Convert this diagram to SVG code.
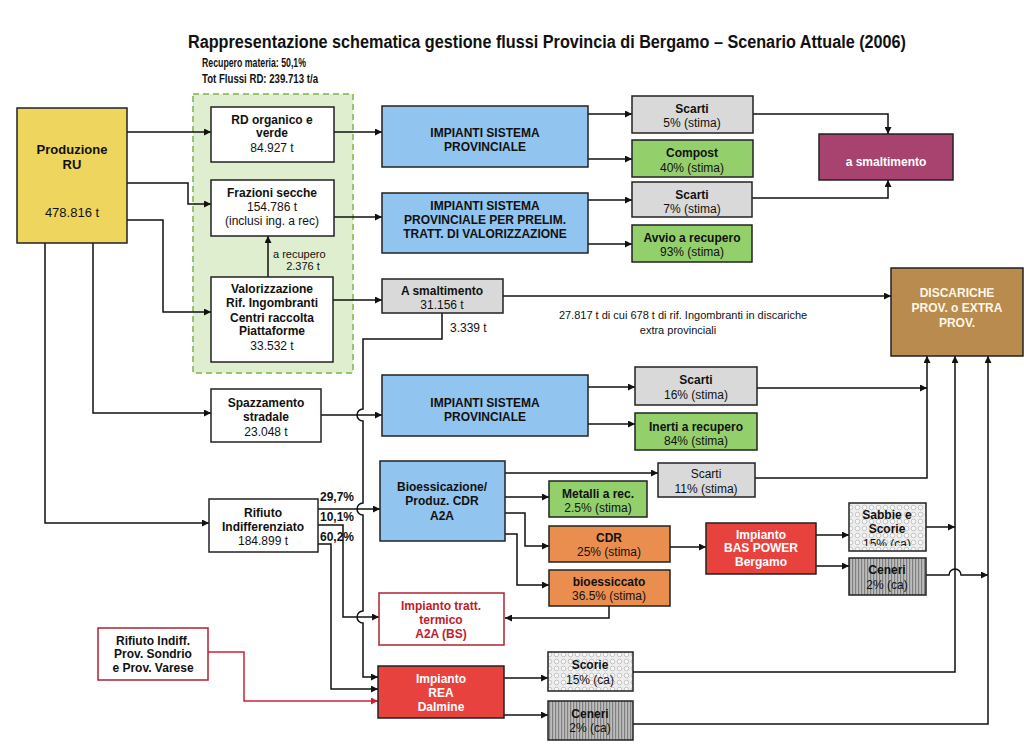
<svg xmlns="http://www.w3.org/2000/svg" width="1024" height="750" viewBox="0 0 1024 750">
<defs>
<style>
text{font-family:'Liberation Sans',Arial,sans-serif;font-size:12px;fill:#111}
.b{font-weight:bold}
.c{text-anchor:middle}
.w{fill:#fff}
.r{fill:#c0202a}
.box{stroke:#222;stroke-width:1.5}
.ln{fill:none;stroke:#111;stroke-width:1.5}
.lr{fill:none;stroke:#d02030;stroke-width:1.5}
</style>
<marker id="ah" viewBox="0 0 10 10" refX="10" refY="5" markerWidth="9" markerHeight="7" orient="auto" markerUnits="userSpaceOnUse"><path d="M0,0 L10,5 L0,10 z" fill="#111"/></marker>
<marker id="ahr" viewBox="0 0 10 10" refX="10" refY="5" markerWidth="9" markerHeight="7" orient="auto" markerUnits="userSpaceOnUse"><path d="M0,0 L10,5 L0,10 z" fill="#d02030"/></marker>
<pattern id="bub" width="7" height="7" patternUnits="userSpaceOnUse"><rect width="7" height="7" fill="#eeeeee"/><circle cx="3.5" cy="3.5" r="2.3" fill="#f8f8f8" stroke="#b0b0b0" stroke-width="0.7"/></pattern>
<pattern id="str" width="3" height="3" patternUnits="userSpaceOnUse"><rect width="3" height="3" fill="#bcbcbc"/><rect width="1.2" height="3" fill="#808080"/></pattern>
<clipPath id="sclip"><rect x="849" y="503" width="77" height="43"/></clipPath>
</defs>
<rect width="1024" height="750" fill="#fff"/>

<text x="188" y="48" class="b" style="font-size:18px" textLength="718" lengthAdjust="spacingAndGlyphs">Rappresentazione schematica gestione flussi Provincia di Bergamo – Scenario Attuale (2006)</text>
<text x="202" y="67" class="b" style="font-size:13px" textLength="104" lengthAdjust="spacingAndGlyphs">Recupero materia: 50,1%</text>
<text x="202" y="83" class="b" style="font-size:13px" textLength="116" lengthAdjust="spacingAndGlyphs">Tot Flussi RD: 239.713 t/a</text>

<rect x="193" y="94" width="160" height="279" fill="#e0eed0" stroke="#7fb24a" stroke-width="1.5" stroke-dasharray="6,4"/>

<g id="connectors">
<path class="ln" d="M127,132 H211" marker-end="url(#ah)"/>
<path class="ln" d="M127,183 H188 V204 H211" marker-end="url(#ah)"/>
<path class="ln" d="M127,220 H163 V312 H211" marker-end="url(#ah)"/>
<path class="ln" d="M93,243 V413 H211" marker-end="url(#ah)"/>
<path class="ln" d="M45,243 V523 H209" marker-end="url(#ah)"/>
<path class="ln" d="M268,277 V236" marker-end="url(#ah)"/>
<path class="ln" d="M334,132 H382" marker-end="url(#ah)"/>
<path class="ln" d="M334,217 H382" marker-end="url(#ah)"/>
<path class="ln" d="M333,300 H382" marker-end="url(#ah)"/>
<path class="ln" d="M588,114 H632" marker-end="url(#ah)"/>
<path class="ln" d="M588,159 H632" marker-end="url(#ah)"/>
<path class="ln" d="M588,200 H632" marker-end="url(#ah)"/>
<path class="ln" d="M588,244 H632" marker-end="url(#ah)"/>
<path class="ln" d="M753,114 H888 V134" marker-end="url(#ah)"/>
<path class="ln" d="M752,198 H888 V180" marker-end="url(#ah)"/>
<path class="ln" d="M503,296 H891" marker-end="url(#ah)"/>
<path class="ln" d="M442,313 V339 H363 V409 A6,6 0 0 0 363,421 V503 A6,6 0 0 0 363,515 V611 A6,6 0 0 0 363,623 V677 H378" marker-end="url(#ah)"/>
<path class="ln" d="M318,509 H380" marker-end="url(#ah)"/>
<path class="ln" d="M318,525 H343 V617 H379" marker-end="url(#ah)"/>
<path class="ln" d="M318,544 H331 V689 H378" marker-end="url(#ah)"/>
<path class="lr" d="M208,652 H244 V701 H378" marker-end="url(#ahr)"/>
<path class="ln" d="M321,415 H382" marker-end="url(#ah)"/>
<path class="ln" d="M588,387 H635" marker-end="url(#ah)"/>
<path class="ln" d="M588,424 H635" marker-end="url(#ah)"/>
<path class="ln" d="M757,388 H927" marker-end="url(#ah)"/>
<path class="ln" d="M755,478 H927 V356" marker-end="url(#ah)"/>
<path class="ln" d="M505,473 H658" marker-end="url(#ah)"/>
<path class="ln" d="M505,497 H549" marker-end="url(#ah)"/>
<path class="ln" d="M505,513 H525 V546 H549" marker-end="url(#ah)"/>
<path class="ln" d="M505,534 H517 V585 H549" marker-end="url(#ah)"/>
<path class="ln" d="M609,606 V618 H505" marker-end="url(#ah)"/>
<path class="ln" d="M670,547 H706" marker-end="url(#ah)"/>
<path class="ln" d="M816,535 H849" marker-end="url(#ah)"/>
<path class="ln" d="M816,566 H849" marker-end="url(#ah)"/>
<path class="ln" d="M926,527 H955" marker-end="url(#ah)"/>
<path class="ln" d="M926,575 H949 A6,6 0 0 1 961,575 H988" marker-end="url(#ah)"/>
<path class="ln" d="M633,672 H955 V356" marker-end="url(#ah)"/>
<path class="ln" d="M633,724 H988 V356" marker-end="url(#ah)"/>
<path class="ln" d="M504,678 H548" marker-end="url(#ah)"/>
<path class="ln" d="M504,715 H548" marker-end="url(#ah)"/>
</g>

<text x="273" y="258" style="font-size:11px">a recupero</text>
<text x="303" y="270" class="c" style="font-size:11px">2.376 t</text>
<text x="450" y="332">3.339 t</text>
<text x="683" y="319" class="c" style="font-size:11px">27.817 t di cui 678 t di rif. Ingombranti  in discariche</text>
<text x="678" y="334" class="c" style="font-size:11px">extra provinciali</text>
<text x="320" y="501" class="b">29,7%</text>
<text x="320" y="521" class="b">10,1%</text>
<text x="320" y="541" class="b">60,2%</text>

<g id="produzione">
<rect class="box" x="17" y="108" width="110" height="135" fill="#edd55e"/>
<text x="72" y="154" class="b c" style="font-size:13px">Produzione</text>
<text x="72" y="169" class="b c" style="font-size:13px">RU</text>
<text x="72" y="217" class="c" style="font-size:13px">478.816 t</text>
</g>
<g id="rd-organico">
<rect class="box" x="211" y="107" width="123" height="55" fill="#fff"/>
<text x="272" y="124" class="b c">RD organico e</text>
<text x="272" y="137" class="b c">verde</text>
<text x="272" y="152" class="c">84.927 t</text>
</g>
<g id="frazioni">
<rect class="box" x="211" y="180" width="123" height="56" fill="#fff"/>
<text x="272" y="197" class="b c">Frazioni secche</text>
<text x="272" y="211" class="c">154.786 t</text>
<text x="272" y="225" class="c">(inclusi ing. a rec)</text>
</g>
<g id="valorizzazione">
<rect class="box" x="211" y="277" width="122" height="85" fill="#fff"/>
<text x="272" y="293" class="b c">Valorizzazione</text>
<text x="272" y="307" class="b c">Rif. Ingombranti</text>
<text x="272" y="322" class="b c">Centri raccolta</text>
<text x="272" y="335" class="b c">Piattaforme</text>
<text x="272" y="350" class="c">33.532 t</text>
</g>
<g id="imp1">
<rect class="box" x="382" y="106" width="206" height="61" fill="#92c4f0"/>
<text x="485" y="137" class="b c">IMPIANTI SISTEMA</text>
<text x="485" y="151" class="b c">PROVINCIALE</text>
</g>
<g id="imp2">
<rect class="box" x="382" y="193" width="206" height="60" fill="#92c4f0"/>
<text x="485" y="210" class="b c">IMPIANTI SISTEMA</text>
<text x="485" y="224" class="b c">PROVINCIALE PER PRELIM.</text>
<text x="485" y="238" class="b c">TRATT. DI VALORIZZAZIONE</text>
</g>
<g id="scarti5">
<rect class="box" x="632" y="96" width="121" height="37" fill="#d9d9d9"/>
<text x="692" y="113" class="b c">Scarti</text>
<text x="692" y="127" class="c">5% (stima)</text>
</g>
<g id="compost">
<rect class="box" x="632" y="140" width="121" height="37" fill="#93cf6b"/>
<text x="692" y="157" class="b c">Compost</text>
<text x="692" y="172" class="c">40% (stima)</text>
</g>
<g id="scarti7">
<rect class="box" x="632" y="182" width="120" height="35" fill="#d9d9d9"/>
<text x="692" y="199" class="b c">Scarti</text>
<text x="692" y="213" class="c">7% (stima)</text>
</g>
<g id="avvio">
<rect class="box" x="632" y="225" width="120" height="37" fill="#93cf6b"/>
<text x="692" y="242" class="b c">Avvio a recupero</text>
<text x="692" y="256" class="c">93% (stima)</text>
</g>
<g id="a-smaltimento-top">
<rect class="box" x="819" y="134" width="134" height="46" fill="#a8426f"/>
<text x="886" y="166" class="b c w">a smaltimento</text>
</g>
<g id="a-smaltimento">
<rect class="box" x="382" y="279" width="121" height="34" fill="#d9d9d9"/>
<text x="442" y="295" class="b c">A smaltimento</text>
<text x="442" y="309" class="c">31.156 t</text>
</g>
<g id="discariche">
<rect class="box" x="891" y="268" width="132" height="88" fill="#b98b4e"/>
<text x="957" y="297" class="b c" style="fill:#fff8e8">DISCARICHE</text>
<text x="957" y="312" class="b c" style="fill:#fff8e8">PROV. o EXTRA</text>
<text x="957" y="327" class="b c" style="fill:#fff8e8">PROV.</text>
</g>
<g id="spazzamento">
<rect class="box" x="211" y="389" width="110" height="53" fill="#fff"/>
<text x="266" y="407" class="b c">Spazzamento</text>
<text x="266" y="421" class="b c">stradale</text>
<text x="266" y="436" class="c">23.048 t</text>
</g>
<g id="rifiuto-indiff">
<rect class="box" x="209" y="499" width="109" height="53" fill="#fff"/>
<text x="263" y="517" class="b c">Rifiuto</text>
<text x="263" y="531" class="b c">Indifferenziato</text>
<text x="263" y="545" class="c">184.899 t</text>
</g>
<g id="imp3">
<rect class="box" x="382" y="375" width="206" height="61" fill="#92c4f0"/>
<text x="485" y="407" class="b c">IMPIANTI SISTEMA</text>
<text x="485" y="421" class="b c">PROVINCIALE</text>
</g>
<g id="scarti16">
<rect class="box" x="635" y="367" width="122" height="38" fill="#d9d9d9"/>
<text x="696" y="384" class="b c">Scarti</text>
<text x="696" y="399" class="c">16% (stima)</text>
</g>
<g id="inerti">
<rect class="box" x="635" y="413" width="122" height="37" fill="#93cf6b"/>
<text x="696" y="431" class="b c">Inerti a recupero</text>
<text x="696" y="445" class="c">84% (stima)</text>
</g>
<g id="bioessicazione">
<rect class="box" x="380" y="461" width="125" height="80" fill="#92c4f0"/>
<text x="442" y="491" class="b c">Bioessicazione/</text>
<text x="442" y="505" class="b c">Produz. CDR</text>
<text x="442" y="520" class="b c">A2A</text>
</g>
<g id="scarti11">
<rect class="box" x="658" y="463" width="97" height="34" fill="#d9d9d9"/>
<text x="706" y="478" class="c">Scarti</text>
<text x="706" y="493" class="c">11% (stima)</text>
</g>
<g id="metalli">
<rect class="box" x="549" y="481" width="98" height="36" fill="#93cf6b"/>
<text x="598" y="498" class="b c">Metalli a rec.</text>
<text x="598" y="512" class="c">2.5% (stima)</text>
</g>
<g id="cdr">
<rect class="box" x="549" y="526" width="121" height="36" fill="#ea8e4f"/>
<text x="609" y="542" class="b c">CDR</text>
<text x="609" y="556" class="c">25% (stima)</text>
</g>
<g id="bioessiccato">
<rect class="box" x="549" y="570" width="121" height="36" fill="#ea8e4f"/>
<text x="609" y="586" class="b c">bioessiccato</text>
<text x="609" y="600" class="c">36.5% (stima)</text>
</g>
<g id="bas-power">
<rect class="box" x="706" y="523" width="110" height="51" fill="#e8423f"/>
<text x="761" y="539" class="b c w">Impianto</text>
<text x="761" y="552" class="b c w">BAS POWER</text>
<text x="761" y="566" class="b c w">Bergamo</text>
</g>
<g id="sabbie">
<rect class="box" x="849" y="503" width="77" height="48" fill="url(#bub)"/>
<text x="887" y="519" class="b c">Sabbie e</text>
<text x="887" y="533" class="b c">Scorie</text>
<text x="887" y="548" class="c" clip-path="url(#sclip)">15% (ca)</text>
</g>
<g id="ceneri-bas">
<rect class="box" x="849" y="558" width="77" height="37" fill="url(#str)"/>
<text x="887" y="574" class="b c">Ceneri</text>
<text x="887" y="589" class="c">2% (ca)</text>
</g>
<g id="tratt-termico">
<rect x="379" y="593" width="125" height="52" fill="#fff" stroke="#b02030" stroke-width="1.5"/>
<text x="441" y="610" class="b c r">Impianto tratt.</text>
<text x="441" y="624" class="b c r">termico</text>
<text x="441" y="638" class="b c r">A2A (BS)</text>
</g>
<g id="sondrio">
<rect x="98" y="628" width="110" height="52" fill="#fff" stroke="#b02030" stroke-width="1.5"/>
<text x="153" y="645" class="b c">Rifiuto Indiff.</text>
<text x="153" y="658" class="b c">Prov. Sondrio</text>
<text x="153" y="672" class="b c">e Prov. Varese</text>
</g>
<g id="rea">
<rect class="box" x="378" y="666" width="126" height="52" fill="#e8423f"/>
<text x="441" y="683" class="b c w">Impianto</text>
<text x="441" y="697" class="b c w">REA</text>
<text x="441" y="711" class="b c w">Dalmine</text>
</g>
<g id="scorie">
<rect class="box" x="548" y="652" width="85" height="39" fill="url(#bub)"/>
<text x="590" y="669" class="b c">Scorie</text>
<text x="590" y="684" class="c">15% (ca)</text>
</g>
<g id="ceneri-rea">
<rect class="box" x="548" y="701" width="85" height="39" fill="url(#str)"/>
<text x="590" y="718" class="b c">Ceneri</text>
<text x="590" y="732" class="c">2% (ca)</text>
</g>
</svg>
